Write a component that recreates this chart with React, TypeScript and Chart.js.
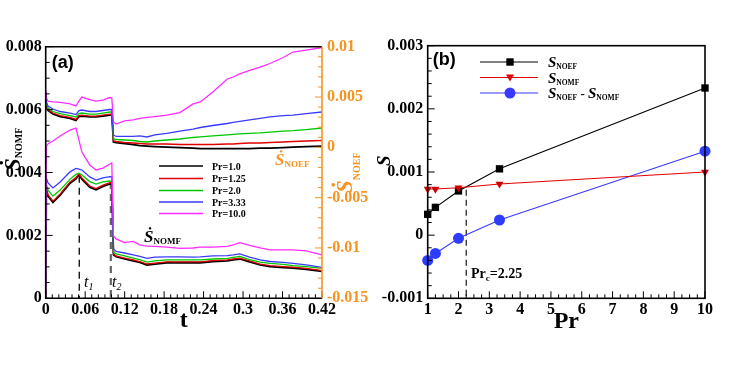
import React, { useEffect, useRef } from "react";
import { Chart, registerables } from "chart.js";

Chart.register(...registerables);

// ---------- Panel (a) data ----------
const T = [0, 0.001, 0.0035, 0.011, 0.022, 0.037, 0.046, 0.0505, 0.055, 0.067, 0.0765, 0.087, 0.0975, 0.1005, 0.103, 0.107, 0.12, 0.133, 0.143, 0.154, 0.166, 0.184, 0.204, 0.224, 0.235, 0.254, 0.276, 0.285, 0.295, 0.31, 0.326, 0.341, 0.361, 0.376, 0.396, 0.42];

// S_NOMF (left axis)
const NOMF_PR1 = [0, 0.00347, 0.00325, 0.00305, 0.00328, 0.00366, 0.0038, 0.00393, 0.00379, 0.00353, 0.00345, 0.00356, 0.00364, 0.00363, 0.00138, 0.00132, 0.00125, 0.00119, 0.00114, 0.00106, 0.00109, 0.00113, 0.00113, 0.00113, 0.00113, 0.00117, 0.00119, 0.00122, 0.00125, 0.00116, 0.00106, 0.00101, 0.00098, 0.00096, 0.00092, 0.00086];
const NOMF_PR125 = [0, 0.00351, 0.00329, 0.00309, 0.00332, 0.0037, 0.00384, 0.00395, 0.00383, 0.00357, 0.00349, 0.0036, 0.00368, 0.00367, 0.00141, 0.00135, 0.00128, 0.00122, 0.00117, 0.00109, 0.00112, 0.00116, 0.00116, 0.00116, 0.00116, 0.0012, 0.00122, 0.00125, 0.00128, 0.00119, 0.00109, 0.00104, 0.00101, 0.00099, 0.00095, 0.00088];
const NOMF_PR2 = [0, 0.00363, 0.00344, 0.00325, 0.00344, 0.00379, 0.00394, 0.00398, 0.00392, 0.00371, 0.00363, 0.0037, 0.00373, 0.00371, 0.00147, 0.00141, 0.00135, 0.00128, 0.00123, 0.00115, 0.00119, 0.00122, 0.00122, 0.00122, 0.00122, 0.00125, 0.00127, 0.0013, 0.00133, 0.00123, 0.00115, 0.00111, 0.00108, 0.00104, 0.00101, 0.00095];
const NOMF_PR333 = [0, 0.00383, 0.00367, 0.00351, 0.0037, 0.00402, 0.00413, 0.00411, 0.00408, 0.00386, 0.00376, 0.00383, 0.00387, 0.00386, 0.00157, 0.00149, 0.00144, 0.00138, 0.00133, 0.00127, 0.00131, 0.00132, 0.00132, 0.00131, 0.00132, 0.00135, 0.00136, 0.00138, 0.00141, 0.00131, 0.00122, 0.00117, 0.00114, 0.00111, 0.00106, 0.00098];
const NOMF_PR10 = [0, 0.00484, 0.00491, 0.005, 0.00516, 0.00535, 0.00541, 0.00503, 0.00465, 0.00424, 0.00408, 0.00414, 0.00427, 0.0043, 0.00198, 0.00189, 0.00177, 0.00181, 0.0017, 0.00166, 0.00165, 0.00163, 0.00159, 0.0016, 0.00163, 0.00163, 0.00165, 0.0017, 0.00177, 0.00168, 0.0016, 0.00154, 0.00154, 0.00154, 0.00151, 0.00138];

// S_NOEF (right axis)
const NOEF_PR1 = [0.0053, 0.00411, 0.00366, 0.00331, 0.00306, 0.00287, 0.00267, 0.00306, 0.00311, 0.00302, 0.00302, 0.00311, 0.00321, 0.00321, 0.00053, 0.00048, 0.00038, 0.00028, 0.00018, 0.00013, 0.00008, 0.00003, -0.00002, -0.00007, -0.00012, -0.00012, -0.00012, -0.00012, -0.00012, -0.00012, -0.00007, -0.00007, -0.00002, 0.00003, 0.00008, 0.00013];
const NOEF_PR125 = [0.0053, 0.00421, 0.00376, 0.00341, 0.00316, 0.00297, 0.00277, 0.00316, 0.00321, 0.00311, 0.00311, 0.00321, 0.00331, 0.00331, 0.00063, 0.00058, 0.00048, 0.00043, 0.00038, 0.00033, 0.00033, 0.00033, 0.00028, 0.00028, 0.00028, 0.00028, 0.00033, 0.00033, 0.00038, 0.00043, 0.00043, 0.00048, 0.00053, 0.00058, 0.00063, 0.00068];
const NOEF_PR2 = [0.0054, 0.00431, 0.00391, 0.00356, 0.00336, 0.00316, 0.00302, 0.00336, 0.00341, 0.00331, 0.00331, 0.00341, 0.00351, 0.00351, 0.00088, 0.00078, 0.00073, 0.00068, 0.00058, 0.00053, 0.00063, 0.00073, 0.00083, 0.00098, 0.00103, 0.00113, 0.00123, 0.00128, 0.00133, 0.00138, 0.00143, 0.00152, 0.00162, 0.00167, 0.00177, 0.00192];
const NOEF_PR333 = [0.0055, 0.00451, 0.00411, 0.00381, 0.00356, 0.00341, 0.00326, 0.00366, 0.00371, 0.00356, 0.00356, 0.00366, 0.00376, 0.00376, 0.00123, 0.00108, 0.00108, 0.00108, 0.00113, 0.00103, 0.00123, 0.00138, 0.00162, 0.00182, 0.00197, 0.00217, 0.00237, 0.00247, 0.00257, 0.00272, 0.00287, 0.00302, 0.00316, 0.00321, 0.00336, 0.00351];
const NOEF_PR10 = [0.0057, 0.0049, 0.0046, 0.00451, 0.00446, 0.00431, 0.00411, 0.0046, 0.005, 0.00475, 0.0046, 0.0047, 0.00495, 0.0049, 0.00252, 0.00232, 0.00262, 0.00272, 0.00287, 0.00297, 0.00306, 0.00321, 0.00346, 0.00431, 0.00451, 0.0055, 0.00679, 0.00699, 0.00729, 0.00764, 0.00798, 0.00833, 0.00893, 0.00947, 0.00967, 0.00992];

const PR_LEGEND = ["Pr=1.0", "Pr=1.25", "Pr=2.0", "Pr=3.33", "Pr=10.0"];
const T1 = 0.051;
const T1_TOP = 0.0039;
const T2 = 0.099;
const T2_TOP = 0.0037;

// ---------- Panel (b) data ----------
const PR = [1, 1.25, 2, 3.33, 10];
const S_NOEF = [0.00033, 0.00044, 0.0007, 0.00105, 0.00233];
const S_NOMF = [0.00073, 0.00073, 0.00075, 0.00081, 0.001];
const S_DIFF = [-0.0004, -0.00029, -0.00005, 0.00024, 0.00133];
const PR_C = 2.25;
const PR_C_TOP = 0.00072;

// ---------- styles ----------
const SERIF = '"Liberation Serif", "Times New Roman", "DejaVu Serif", serif';
const SANS = '"Liberation Sans", Arial, sans-serif';
const ORANGE = "#f7931e";
const C_BLACK = "#000000";
const C_RED = "#e00000";
const C_GREEN = "#00c800";
const C_BLUE = "#3a3aff";
const C_PINK = "#ff2bff";
const SERIES_COLORS = [C_BLACK, C_RED, C_GREEN, C_BLUE, C_PINK];
const TICK_FONT = { family: SERIF, size: 16, weight: "bold" as const };

type Part = [string, string, number];

function drawParts(ctx: CanvasRenderingContext2D, parts: Part[], x: number, y: number, color: string) {
  ctx.fillStyle = color;
  ctx.textBaseline = "alphabetic";
  ctx.textAlign = "left";
  let cx = x;
  for (const [t, f, dy] of parts) {
    ctx.font = f;
    ctx.fillText(t, cx, y + dy);
    cx += ctx.measureText(t).width;
  }
  return cx - x;
}

function drawRotated(ctx: CanvasRenderingContext2D, parts: Part[], x: number, y: number, color: string) {
  ctx.save();
  ctx.translate(x, y);
  ctx.rotate(-Math.PI / 2);
  drawParts(ctx, parts, 0, 0, color);
  ctx.restore();
}

function drawTicks(ctx: CanvasRenderingContext2D, scale: any, side: string, a: any, min: number, max: number, major: number, minor: number, color: string) {
  ctx.save();
  ctx.strokeStyle = color;
  ctx.lineWidth = 1;
  const n = Math.round((max - min) / minor);
  for (let i = 0; i <= n; i++) {
    const v = min + i * minor;
    const r = v / major;
    const isMajor = Math.abs(r - Math.round(r)) < 1e-6;
    const len = isMajor ? 7 : 4;
    const p = scale.getPixelForValue(v);
    ctx.beginPath();
    if (side === "bottom") {
      ctx.moveTo(p, a.bottom);
      ctx.lineTo(p, a.bottom - len);
    } else if (side === "left") {
      ctx.moveTo(a.left, p);
      ctx.lineTo(a.left + len, p);
    } else {
      ctx.moveTo(a.right, p);
      ctx.lineTo(a.right - len, p);
    }
    ctx.stroke();
  }
  ctx.restore();
}

const leftOverlay = {
  id: "leftOverlay",
  afterDraw(chart: any) {
    const ctx: CanvasRenderingContext2D = chart.ctx;
    const a = chart.chartArea;
    ctx.save();
    drawTicks(ctx, chart.scales.x, "bottom", a, 0, 0.42, 0.06, 0.01, C_BLACK);
    drawTicks(ctx, chart.scales.y, "left", a, 0, 0.008, 0.002, 0.0005, C_BLACK);
    drawTicks(ctx, chart.scales.y1, "right", a, -0.015, 0.01, 0.005, 0.001, ORANGE);
    ctx.lineWidth = 1.6;
    ctx.strokeStyle = C_BLACK;
    ctx.beginPath();
    ctx.moveTo(a.right, a.top);
    ctx.lineTo(a.left, a.top);
    ctx.lineTo(a.left, a.bottom);
    ctx.lineTo(a.right, a.bottom);
    ctx.stroke();
    ctx.strokeStyle = ORANGE;
    ctx.beginPath();
    ctx.moveTo(a.right, a.top);
    ctx.lineTo(a.right, a.bottom);
    ctx.stroke();

    // panel label
    ctx.fillStyle = C_BLACK;
    ctx.font = `bold 18px ${SANS}`;
    ctx.fillText("(a)", a.left + 6, a.top + 21);

    // axis titles
    drawRotated(ctx, [["Ṡ", `italic bold 23px ${SERIF}`, 0], ["NOMF", `bold 10px ${SERIF}`, 2]], 20, 171, C_BLACK);
    drawRotated(ctx, [["Ṡ", `italic bold 23px ${SERIF}`, 0], ["NOEF", `bold 10px ${SERIF}`, 8]], 352, 193, ORANGE);
    ctx.fillStyle = C_BLACK;
    ctx.font = `bold 24px ${SERIF}`;
    ctx.textAlign = "center";
    ctx.fillText("t", (a.left + a.right) / 2, 327);
    ctx.textAlign = "left";

    // in-plot labels
    drawParts(ctx, [["Ṡ", `italic bold 17px ${SERIF}`, 0], ["NOEF", `bold 9px ${SERIF}`, 2]], 275, 165, ORANGE);
    drawParts(ctx, [["Ṡ", `italic bold 17px ${SERIF}`, 0], ["NOMF", `bold 9px ${SERIF}`, 2]], 144, 242, C_BLACK);
    drawParts(ctx, [["t", `italic 16px ${SERIF}`, 0], ["1", `italic 10px ${SERIF}`, 3]], 84, 287, C_BLACK);
    drawParts(ctx, [["t", `italic 16px ${SERIF}`, 0], ["2", `italic 10px ${SERIF}`, 3]], 112, 287, C_BLACK);

    // legend
    const rows = [166, 178.5, 190.5, 202, 213.5];
    PR_LEGEND.forEach((lab, i) => {
      ctx.strokeStyle = SERIES_COLORS[i];
      ctx.lineWidth = 1.4;
      ctx.beginPath();
      ctx.moveTo(159, rows[i]);
      ctx.lineTo(203, rows[i]);
      ctx.stroke();
      ctx.fillStyle = C_BLACK;
      ctx.font = `bold 10px ${SERIF}`;
      ctx.fillText(lab, 212, rows[i] + 3.5);
    });
    ctx.restore();
  },
};

function drawMarker(ctx: CanvasRenderingContext2D, kind: string, x: number, y: number, color: string) {
  ctx.fillStyle = color;
  ctx.beginPath();
  if (kind === "rect") {
    ctx.rect(x - 3.7, y - 3.7, 7.4, 7.4);
  } else if (kind === "tri") {
    ctx.moveTo(x - 4, y - 3);
    ctx.lineTo(x + 4, y - 3);
    ctx.lineTo(x, y + 4);
    ctx.closePath();
  } else {
    ctx.arc(x, y, 5.5, 0, Math.PI * 2);
  }
  ctx.fill();
}

const rightOverlay = {
  id: "rightOverlay",
  afterDraw(chart: any) {
    const ctx: CanvasRenderingContext2D = chart.ctx;
    const a = chart.chartArea;
    ctx.save();
    drawTicks(ctx, chart.scales.x, "bottom", a, 1, 10, 1, 0.25, C_BLACK);
    drawTicks(ctx, chart.scales.y, "left", a, -0.001, 0.003, 0.001, 0.0002, C_BLACK);
    ctx.lineWidth = 1.6;
    ctx.strokeStyle = C_BLACK;
    ctx.strokeRect(a.left, a.top, a.right - a.left, a.bottom - a.top);

    ctx.fillStyle = C_BLACK;
    ctx.font = `bold 18px ${SANS}`;
    ctx.fillText("(b)", a.left + 5, a.top + 19);

    drawRotated(ctx, [["S", `italic bold 19px ${SERIF}`, 0]], 16, 166, C_BLACK);
    ctx.fillStyle = C_BLACK;
    ctx.font = `bold 24px ${SERIF}`;
    ctx.textAlign = "center";
    ctx.fillText("Pr", (a.left + a.right) / 2, 328);
    ctx.textAlign = "left";

    drawParts(ctx, [["Pr", `bold 14px ${SERIF}`, 0], ["c", `bold 9px ${SERIF}`, 3], ["=2.25", `bold 14px ${SERIF}`, 0]], 97, 278, C_BLACK);

    // legend
    const rows = [62, 77.5, 93];
    const cols = [C_BLACK, C_RED, C_BLUE];
    const kinds = ["rect", "tri", "circ"];
    const SF = `italic bold 15px ${SERIF}`;
    const SUB = `bold 7.5px ${SERIF}`;
    const labels: Part[][] = [
      [["S", SF, 0], ["NOEF", SUB, 2]],
      [["S", SF, 0], ["NOMF", SUB, 2]],
      [["S", SF, 0], ["NOEF", SUB, 2], [" - ", `bold 13px ${SERIF}`, 0], ["S", SF, 0], ["NOMF", SUB, 2]],
    ];
    rows.forEach((ry, i) => {
      ctx.strokeStyle = cols[i];
      ctx.lineWidth = 1.2;
      ctx.beginPath();
      ctx.moveTo(106, ry);
      ctx.lineTo(164, ry);
      ctx.stroke();
      drawMarker(ctx, kinds[i], 136, ry, cols[i]);
      drawParts(ctx, labels[i], 174, ry + 5, C_BLACK);
    });
    ctx.restore();
  },
};

function fmtT(v: number) {
  return String(parseFloat(Number(v).toFixed(2)));
}
function fmtS(v: number) {
  if (Math.abs(v) < 1e-12) return "0";
  return String(parseFloat(Number(v).toFixed(3)));
}

function LeftPanel() {
  const ref = useRef<HTMLCanvasElement>(null);
  useEffect(() => {
    if (!ref.current) return;
    const lower = [NOMF_PR1, NOMF_PR125, NOMF_PR2, NOMF_PR333, NOMF_PR10];
    const upper = [NOEF_PR1, NOEF_PR125, NOEF_PR2, NOEF_PR333, NOEF_PR10];
    const datasets: any[] = [];
    lower.forEach((arr, i) => {
      datasets.push({
        label: "NOMF " + PR_LEGEND[i],
        data: T.map((t, k) => ({ x: t, y: arr[k] })),
        borderColor: SERIES_COLORS[i],
        borderWidth: i === 0 ? 1.8 : 1.3,
        pointRadius: 0,
        tension: 0,
        yAxisID: "y",
        order: 5 - i,
      });
    });
    upper.forEach((arr, i) => {
      datasets.push({
        label: "NOEF " + PR_LEGEND[i],
        data: T.map((t, k) => ({ x: t, y: arr[k] })),
        borderColor: SERIES_COLORS[i],
        borderWidth: i === 0 ? 1.8 : 1.3,
        pointRadius: 0,
        tension: 0,
        yAxisID: "y1",
        order: 5 - i,
      });
    });
    datasets.push({
      label: "t1",
      data: [{ x: T1, y: T1_TOP }, { x: T1, y: 0 }],
      borderColor: C_BLACK,
      borderWidth: 1.3,
      borderDash: [7, 5],
      pointRadius: 0,
      yAxisID: "y",
      order: 10,
    });
    datasets.push({
      label: "t2",
      data: [{ x: T2, y: T2_TOP }, { x: T2, y: 0 }],
      borderColor: "#666666",
      borderWidth: 2.2,
      borderDash: [7, 5],
      pointRadius: 0,
      yAxisID: "y",
      order: 10,
    });
    const chart = new Chart(ref.current, {
      type: "line",
      data: { datasets },
      plugins: [leftOverlay],
      options: {
        responsive: false,
        animation: false,
        events: [],
        layout: { padding: { top: 46.7, left: 0, right: 0, bottom: 0 } },
        plugins: { legend: { display: false }, tooltip: { enabled: false }, title: { display: false } },
        scales: {
          x: {
            type: "linear",
            min: 0,
            max: 0.42,
            afterFit: (s: any) => { s.height = 73.7; },
            grid: { display: false, drawTicks: false },
            border: { display: false },
            ticks: { stepSize: 0.06, padding: 2, color: C_BLACK, font: TICK_FONT, autoSkip: false, maxRotation: 0, callback: (v: any) => fmtT(v) },
          },
          y: {
            type: "linear",
            position: "left",
            min: 0,
            max: 0.008,
            afterFit: (s: any) => { s.width = 45.7; },
            grid: { display: false, drawTicks: false },
            border: { display: false },
            ticks: { stepSize: 0.002, padding: 4, color: C_BLACK, font: TICK_FONT, autoSkip: false, callback: (v: any) => fmtS(v) },
          },
          y1: {
            type: "linear",
            position: "right",
            min: -0.015,
            max: 0.01,
            afterFit: (s: any) => { s.width = 52; },
            grid: { display: false, drawTicks: false },
            border: { display: false },
            ticks: { stepSize: 0.005, padding: 5, color: ORANGE, font: TICK_FONT, autoSkip: false, callback: (v: any) => fmtS(v) },
          },
        },
      } as any,
    });
    return () => chart.destroy();
  }, []);
  return <canvas ref={ref} width={374} height={372} style={{ position: "absolute", left: 0, top: 0 }} />;
}

function RightPanel() {
  const ref = useRef<HTMLCanvasElement>(null);
  useEffect(() => {
    if (!ref.current) return;
    const datasets: any[] = [
      {
        label: "S_NOEF",
        data: PR.map((p, i) => ({ x: p, y: S_NOEF[i] })),
        borderColor: C_BLACK,
        borderWidth: 1.1,
        pointStyle: "rect",
        pointRadius: 5.2,
        pointBackgroundColor: C_BLACK,
        pointBorderWidth: 0,
        clip: false,
        order: 2,
      },
      {
        label: "S_NOMF",
        data: PR.map((p, i) => ({ x: p, y: S_NOMF[i] })),
        borderColor: C_RED,
        borderWidth: 1.1,
        pointStyle: "triangle",
        pointRotation: 180,
        pointRadius: 4.6,
        pointBackgroundColor: "#cc0000",
        pointBorderWidth: 0,
        clip: false,
        order: 1,
      },
      {
        label: "S_NOEF - S_NOMF",
        data: PR.map((p, i) => ({ x: p, y: S_DIFF[i] })),
        borderColor: C_BLUE,
        borderWidth: 1.1,
        pointStyle: "circle",
        pointRadius: 5.5,
        pointBackgroundColor: "#2e3cff",
        pointBorderWidth: 0,
        clip: false,
        order: 3,
      },
      {
        label: "Prc",
        data: [{ x: PR_C, y: PR_C_TOP }, { x: PR_C, y: -0.001 }],
        borderColor: C_BLACK,
        borderWidth: 1.1,
        borderDash: [6, 4],
        pointRadius: 0,
        order: 4,
      },
    ];
    const chart = new Chart(ref.current, {
      type: "line",
      data: { datasets },
      plugins: [rightOverlay],
      options: {
        responsive: false,
        animation: false,
        events: [],
        layout: { padding: { top: 45.7, left: 0, right: 43, bottom: 0 } },
        plugins: { legend: { display: false }, tooltip: { enabled: false }, title: { display: false } },
        scales: {
          x: {
            type: "linear",
            min: 1,
            max: 10,
            afterFit: (s: any) => { s.height = 73.7; },
            grid: { display: false, drawTicks: false },
            border: { display: false },
            ticks: { stepSize: 1, padding: 2, color: C_BLACK, font: TICK_FONT, autoSkip: false, maxRotation: 0, callback: (v: any) => String(v) },
          },
          y: {
            type: "linear",
            position: "left",
            min: -0.001,
            max: 0.003,
            afterFit: (s: any) => { s.width = 53.7; },
            grid: { display: false, drawTicks: false },
            border: { display: false },
            ticks: { stepSize: 0.001, padding: 4.5, color: C_BLACK, font: TICK_FONT, autoSkip: false, callback: (v: any) => fmtS(v) },
          },
        },
      } as any,
    });
    return () => chart.destroy();
  }, []);
  return <canvas ref={ref} width={374} height={372} style={{ position: "absolute", left: 374, top: 0 }} />;
}

export default function App() {
  return (
    <div style={{ position: "absolute", left: 0, top: 0, width: 748, height: 372, background: "#ffffff", overflow: "hidden" }}>
      <LeftPanel />
      <RightPanel />
    </div>
  );
}
